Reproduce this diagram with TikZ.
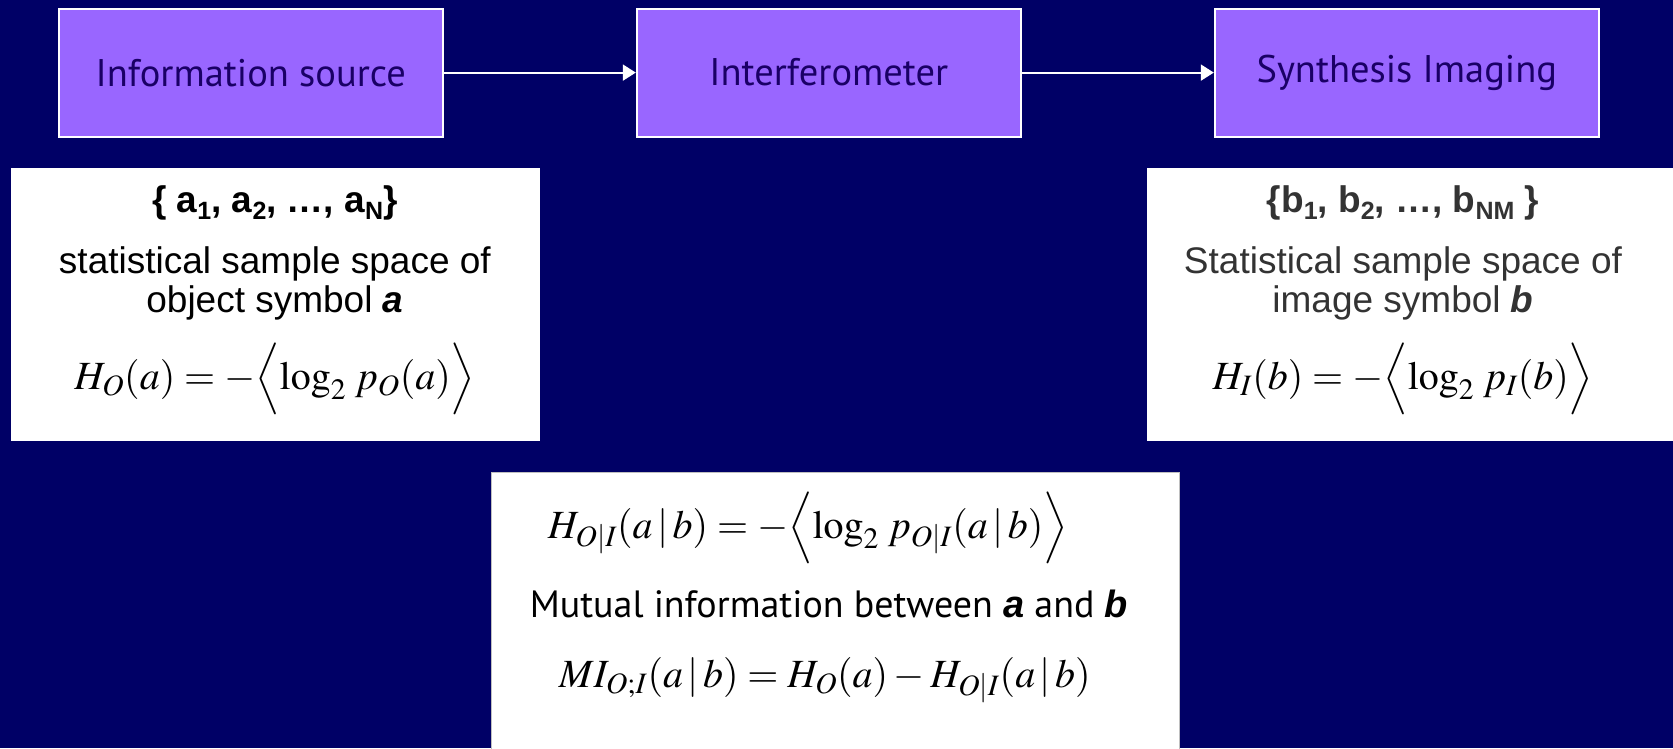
\documentclass[tikz,border=0pt]{standalone}
\usepackage{mathptmx}
\usepackage[no-math]{fontspec}
\setmainfont{Liberation Sans}
\newfontfamily\slidefont{PT Sans}
\usetikzlibrary{arrows.meta, positioning, calc}
\definecolor{slideNavy}{RGB}{0,0,102}
\definecolor{slidePurple}{RGB}{153,102,255}
\definecolor{slideInk}{RGB}{26,0,102}
\definecolor{slideGray}{RGB}{51,51,51}
\newcommand{\lowsub}[1]{\raisebox{-0.35ex}{\fontsize{25}{25}\selectfont #1}}
\tikzset{
    slide/.style={x=1pt, y=-1pt, >={Triangle[length=13pt, width=16pt]}},
    stage/.style={draw=white, line width=2pt, fill=slidePurple,
                  minimum width=384pt, minimum height=128pt, inner sep=0pt,
                  text=slideInk, font=\slidefont\fontsize{38.5}{44}\selectfont},
    panel/.style={draw=white, fill=white, inner sep=0pt, anchor=north west},
    setline/.style={font=\bfseries\fontsize{37}{44}\selectfont, inner sep=0pt},
    textline/.style={font=\fontsize{37}{39}\selectfont, align=center, inner sep=0pt},
    plainline/.style={font=\slidefont\fontsize{38}{44}\selectfont, inner sep=0pt},
    formula/.style={font=\fontsize{40}{48}\selectfont, inner sep=0pt},
    arrow/.style={->, draw=white, line width=2pt},
}

\begin{document}
\begin{tikzpicture}[slide]

% background
\fill[slideNavy] (0,0) rectangle (1673,748);
\useasboundingbox (0,0) rectangle (1673,748);

% --- chain of stages ---
\node[stage] (src) at (250.8,72.6) {Information source};
\node[stage, right=192pt of src] (ifm) {Interferometer};
\node[stage, right=192pt of ifm] (synth) {Synthesis Imaging};

\draw[arrow] (src.east) -- (ifm.west);
\draw[arrow] (ifm.east) -- (synth.west);

% --- object side ---
\node[panel, minimum width=528pt, minimum height=272pt] (objspace) at (10.7,167.5) {};
\node[setline] (aset) at ($(objspace.north)+(0,35.5)$)
    {\{ a\lowsub{1}, a\lowsub{2}, …, a\lowsub{N}\}};
\node[textline] (aspace) at ($(objspace.north)+(0,116)$)
    {statistical sample space of\\object symbol \textbf{\textit{a}}};
\node[formula] (hobj) at ($(objspace.north)+(0,211.5)$)
    {$H_{O}(a) = -\Bigl\langle \log_2\, p_{O}(a) \Bigr\rangle$};

% --- image side ---
\node[panel, minimum width=540pt, minimum height=272pt] (imgspace) at (1147,167.5) {};
\node[setline, text=slideGray] (bset) at ($(imgspace.north west)+(256,35.5)$)
    {\{b\lowsub{1}, b\lowsub{2}, …, b\lowsub{NM} \}};
\node[textline, text=slideGray] (bspace) at ($(imgspace.north west)+(256,116)$)
    {Statistical sample space of\\image symbol \textbf{\textit{b}}};
\node[formula] (himg) at ($(imgspace.north west)+(256,211.5)$)
    {$H_{I}(b) = -\Bigl\langle \log_2\, p_{I}(b) \Bigr\rangle$};

% --- mutual information ---
\node[panel, draw=black!25, line width=1.5pt, minimum width=688pt, minimum height=300pt] (mutual) at (490.8,471.6) {};
\node[formula] (hcond) at ($(mutual.north west)+(317,56.4)$)
    {$H_{O|I}(a\,|\,b) = -\Bigl\langle \log_2\, p_{O|I}(a\,|\,b) \Bigr\rangle$};
\node[plainline] (mtext) at ($(mutual.north west)+(338,132.4)$)
    {Mutual information between {\rmfamily\bfseries\itshape a} and {\rmfamily\bfseries\itshape b}};
\node[formula] (mi) at ($(mutual.north west)+(334,208.4)$)
    {$MI_{O;I}(a\,|\,b) = H_{O}(a) - H_{O|I}(a\,|\,b)$};

\end{tikzpicture}
\end{document}
